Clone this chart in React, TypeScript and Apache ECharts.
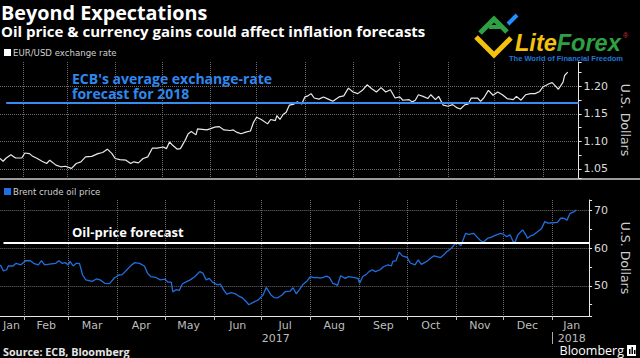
import React, { useEffect, useRef } from 'react';
import * as echarts from 'echarts';

// ---------- data ----------
const START_DATE = '2017-01-17';
const END_DATE = '2018-01-24';
const MONTH_NAMES = ['Jan', 'Feb', 'Mar', 'Apr', 'May', 'Jun', 'Jul', 'Aug', 'Sep', 'Oct', 'Nov', 'Dec'];

const fxDates = [
  '2017-01-17', '2017-01-19', '2017-01-21', '2017-01-24', '2017-01-27', '2017-01-31', '2017-02-02', '2017-02-05',
  '2017-02-07', '2017-02-10', '2017-02-13', '2017-02-16', '2017-02-18', '2017-02-22', '2017-02-25', '2017-02-28',
  '2017-03-03', '2017-03-04', '2017-03-07', '2017-03-10', '2017-03-13', '2017-03-17', '2017-03-21', '2017-03-24',
  '2017-03-27', '2017-03-30', '2017-04-01', '2017-04-04', '2017-04-08', '2017-04-11', '2017-04-13', '2017-04-16',
  '2017-04-19', '2017-04-22', '2017-04-25', '2017-04-28', '2017-05-02', '2017-05-04', '2017-05-06', '2017-05-08',
  '2017-05-11', '2017-05-13', '2017-05-16', '2017-05-18', '2017-05-20', '2017-05-23', '2017-05-24', '2017-05-27',
  '2017-05-30', '2017-06-01', '2017-06-04', '2017-06-07', '2017-06-10', '2017-06-14', '2017-06-16', '2017-06-18',
  '2017-06-21', '2017-06-24', '2017-06-27', '2017-06-29', '2017-07-01', '2017-07-04', '2017-07-08', '2017-07-10',
  '2017-07-13', '2017-07-14', '2017-07-16', '2017-07-18', '2017-07-20', '2017-07-22', '2017-07-25', '2017-07-27',
  '2017-07-30', '2017-08-01', '2017-08-03', '2017-08-05', '2017-08-07', '2017-08-10', '2017-08-13', '2017-08-16',
  '2017-08-19', '2017-08-23', '2017-08-26', '2017-08-29', '2017-09-01', '2017-09-04', '2017-09-07', '2017-09-10',
  '2017-09-13', '2017-09-16', '2017-09-19', '2017-09-22', '2017-09-25', '2017-09-28', '2017-10-01', '2017-10-03',
  '2017-10-07', '2017-10-09', '2017-10-11', '2017-10-13', '2017-10-16', '2017-10-19', '2017-10-21', '2017-10-24',
  '2017-10-26', '2017-10-29', '2017-11-01', '2017-11-04', '2017-11-07', '2017-11-09', '2017-11-12', '2017-11-14',
  '2017-11-16', '2017-11-20', '2017-11-22', '2017-11-24', '2017-11-27', '2017-11-30', '2017-12-03', '2017-12-06',
  '2017-12-09', '2017-12-13', '2017-12-15', '2017-12-18', '2017-12-21', '2017-12-24', '2017-12-27', '2017-12-30',
  '2018-01-01', '2018-01-05', '2018-01-07', '2018-01-09', '2018-01-11', '2018-01-14', '2018-01-15', '2018-01-17',
];
const fxValues = [
  1.069, 1.064, 1.070, 1.076, 1.070, 1.070, 1.079, 1.078,
  1.073, 1.069, 1.064, 1.060, 1.066, 1.057, 1.054, 1.055,
  1.052, 1.051, 1.060, 1.063, 1.072, 1.073, 1.078, 1.080,
  1.086, 1.078, 1.069, 1.067, 1.066, 1.060, 1.063, 1.061,
  1.069, 1.072, 1.088, 1.088, 1.090, 1.087, 1.099, 1.093,
  1.086, 1.087, 1.102, 1.114, 1.118, 1.112, 1.123, 1.122,
  1.121, 1.123, 1.126, 1.127, 1.121, 1.120, 1.121, 1.117,
  1.114, 1.117, 1.119, 1.135, 1.144, 1.140, 1.132, 1.140,
  1.138, 1.147, 1.140, 1.149, 1.153, 1.166, 1.168, 1.172,
  1.168, 1.181, 1.183, 1.187, 1.179, 1.177, 1.181, 1.177,
  1.173, 1.181, 1.183, 1.197, 1.190, 1.187, 1.193, 1.203,
  1.196, 1.190, 1.198, 1.190, 1.194, 1.179, 1.181, 1.175,
  1.176, 1.172, 1.175, 1.185, 1.182, 1.178, 1.185, 1.176,
  1.182, 1.166, 1.164, 1.167, 1.161, 1.159, 1.167, 1.168,
  1.179, 1.179, 1.173, 1.179, 1.193, 1.184, 1.190, 1.185,
  1.178, 1.176, 1.182, 1.175, 1.185, 1.187, 1.187, 1.191,
  1.199, 1.205, 1.207, 1.201, 1.195, 1.208, 1.220, 1.226,
];

const oilDates = [
  '2017-01-17', '2017-01-19', '2017-01-21', '2017-01-22', '2017-01-25', '2017-01-27', '2017-01-30', '2017-02-02',
  '2017-02-05', '2017-02-07', '2017-02-10', '2017-02-12', '2017-02-14', '2017-02-17', '2017-02-21', '2017-02-23',
  '2017-02-25', '2017-02-27', '2017-03-01', '2017-03-02', '2017-03-04', '2017-03-06', '2017-03-08', '2017-03-10',
  '2017-03-12', '2017-03-16', '2017-03-19', '2017-03-21', '2017-03-24', '2017-03-27', '2017-03-30', '2017-04-02',
  '2017-04-04', '2017-04-07', '2017-04-10', '2017-04-12', '2017-04-15', '2017-04-18', '2017-04-20', '2017-04-22',
  '2017-04-25', '2017-04-28', '2017-05-01', '2017-05-03', '2017-05-05', '2017-05-06', '2017-05-08', '2017-05-10',
  '2017-05-12', '2017-05-14', '2017-05-17', '2017-05-20', '2017-05-23', '2017-05-25', '2017-05-27', '2017-05-29',
  '2017-05-31', '2017-06-03', '2017-06-05', '2017-06-07', '2017-06-09', '2017-06-12', '2017-06-15', '2017-06-17',
  '2017-06-19', '2017-06-21', '2017-06-23', '2017-06-26', '2017-06-29', '2017-07-02', '2017-07-04', '2017-07-07',
  '2017-07-09', '2017-07-11', '2017-07-14', '2017-07-16', '2017-07-19', '2017-07-21', '2017-07-23', '2017-07-25',
  '2017-07-27', '2017-07-30', '2017-08-01', '2017-08-03', '2017-08-05', '2017-08-07', '2017-08-09', '2017-08-11',
  '2017-08-13', '2017-08-15', '2017-08-17', '2017-08-18', '2017-08-20', '2017-08-23', '2017-08-25', '2017-08-28',
  '2017-08-31', '2017-09-01', '2017-09-03', '2017-09-05', '2017-09-07', '2017-09-09', '2017-09-11', '2017-09-14',
  '2017-09-16', '2017-09-19', '2017-09-21', '2017-09-22', '2017-09-24', '2017-09-26', '2017-09-28', '2017-10-01',
  '2017-10-03', '2017-10-06', '2017-10-08', '2017-10-10', '2017-10-12', '2017-10-14', '2017-10-16', '2017-10-18',
  '2017-10-20', '2017-10-22', '2017-10-24', '2017-10-26', '2017-10-29', '2017-10-31', '2017-11-02', '2017-11-04',
  '2017-11-05', '2017-11-07', '2017-11-09', '2017-11-12', '2017-11-14', '2017-11-16', '2017-11-18', '2017-11-21',
  '2017-11-23', '2017-11-26', '2017-11-29', '2017-12-01', '2017-12-03', '2017-12-05', '2017-12-07', '2017-12-08',
  '2017-12-10', '2017-12-13', '2017-12-15', '2017-12-16', '2017-12-18', '2017-12-20', '2017-12-23', '2017-12-25',
  '2017-12-27', '2017-12-29', '2018-01-01', '2018-01-04', '2018-01-06', '2018-01-08', '2018-01-10', '2018-01-12',
  '2018-01-14', '2018-01-16',
];
const oilValues = [
  55.6, 54.0, 54.3, 55.3, 55.3, 56.0, 55.6, 56.7,
  56.7, 56.0, 55.6, 56.7, 55.6, 55.8, 56.0, 56.7,
  56.0, 56.2, 55.6, 56.5, 55.3, 56.0, 56.0, 52.9,
  51.6, 51.2, 51.9, 51.6, 50.7, 50.6, 52.1, 52.9,
  53.0, 54.3, 55.6, 56.2, 56.0, 55.3, 53.4, 52.5,
  52.3, 51.6, 51.8, 51.0, 51.0, 48.4, 49.0, 48.8,
  50.5, 51.0, 51.6, 52.5, 53.8, 53.4, 51.6, 52.0,
  51.0, 50.3, 50.5, 49.0, 47.8, 48.2, 47.8, 47.2,
  46.8, 46.0, 45.0, 45.7, 46.3, 47.6, 49.6, 47.6,
  46.9, 46.8, 47.6, 48.5, 48.6, 49.5, 47.9, 49.0,
  50.3, 51.4, 52.5, 52.2, 52.3, 52.1, 52.3, 52.6,
  52.2, 50.7, 50.4, 50.1, 52.7, 52.0, 52.5, 52.3,
  52.0, 50.7, 52.5, 53.0, 53.8, 54.3, 53.8, 54.3,
  55.1, 55.6, 55.3, 56.5, 56.7, 59.0, 58.0, 57.6,
  56.1, 55.6, 56.9, 55.7, 56.2, 56.7, 57.4, 58.0,
  57.8, 57.5, 58.2, 59.1, 60.0, 61.1, 61.4, 60.7,
  61.8, 64.0, 63.7, 64.0, 63.1, 62.2, 61.6, 62.7,
  62.9, 63.5, 64.0, 63.7, 63.1, 63.6, 61.8, 61.4,
  63.6, 64.9, 63.6, 62.7, 63.3, 63.6, 64.6, 65.3,
  67.1, 66.7, 66.8, 66.9, 68.0, 68.0, 67.5, 69.3,
  69.6, 70.2,
];

const ECB_FX_FORECAST = 1.17;
const FX_FORECAST_FROM = '2017-01-21';
const OIL_FORECAST = 61.6;
const OIL_FORECAST_FROM = '2017-01-19';

const FX_RANGE = [1.0336, 1.2445];
const OIL_RANGE = [42.0, 72.85];

// ---------- helpers ----------
function buildDays(start: string, end: string): string[] {
  const out: string[] = [];
  const d = new Date(start + 'T00:00:00Z');
  const e = new Date(end + 'T00:00:00Z');
  while (d.getTime() <= e.getTime()) {
    out.push(d.toISOString().slice(0, 10));
    d.setUTCDate(d.getUTCDate() + 1);
  }
  return out;
}

function midIndices(days: string[], keyLen: number): Set<number> {
  const groups: Record<string, number[]> = {};
  days.forEach((d, i) => {
    const k = d.slice(0, keyLen);
    if (!groups[k]) groups[k] = [i, i];
    groups[k][1] = i;
  });
  return new Set(Object.values(groups).map((g) => Math.round((g[0] + g[1]) / 2)));
}

const FONT_SANS = '"Open Sans", "DejaVu Sans", sans-serif';
const FONT_AXIS = '"DejaVu Sans", sans-serif';
const GRID_LINE = { color: '#6a6a6a', type: 'dotted', width: 1 };

export default function App() {
  const ref = useRef<HTMLDivElement>(null);

  useEffect(() => {
    if (!ref.current) return;
    const chart = echarts.init(ref.current, undefined, { renderer: 'svg' });

    const days = buildDays(START_DATE, END_DATE);
    const monthStarts = new Set<number>();
    days.forEach((d, i) => { if (i > 0 && d.endsWith('-01')) monthStarts.add(i); });
    const yearStarts = new Set<number>();
    days.forEach((d, i) => { if (i > 0 && d.endsWith('-01-01')) yearStarts.add(i); });
    const monthLabels = midIndices(days, 7);
    const yearLabels = midIndices(days, 4);

    const splitLineX = {
      show: true,
      interval: (i: number) => monthStarts.has(i),
      lineStyle: GRID_LINE,
    };
    const splitLineY = {
      show: true,
      showMinLine: false,
      showMaxLine: false,
      lineStyle: GRID_LINE,
    };
    const yAxisCommon = {
      type: 'value',
      position: 'right',
      axisLine: { show: true, lineStyle: { color: '#e6e6e6', width: 1 } },
      axisTick: { show: true, length: 3, lineStyle: { color: '#e6e6e6' } },
      minorTick: { show: true, splitNumber: 2, length: 3, lineStyle: { color: '#e6e6e6' } },
      splitLine: splitLineY,
      name: 'U.S. Dollars',
      nameLocation: 'middle',
      nameRotate: -90,
      nameGap: 20,
      nameTextStyle: { color: '#cfcfcf', fontSize: 12.5, fontFamily: FONT_AXIS },
    };

    const option: any = {
      animation: false,
      backgroundColor: '#000',
      grid: [
        { left: 0, right: 47, top: 62, height: 116 },
        { left: 0, right: 47, top: 200, height: 116 },
      ],
      legend: [
        {
          data: ['EUR/USD exchange rate'], left: 4, top: 48, padding: 0, icon: 'rect',
          itemWidth: 7, itemHeight: 7, selectedMode: false,
          textStyle: { color: '#d0d0d0', fontSize: 8.6, fontFamily: FONT_AXIS, padding: [0, 0, 0, -3] },
        },
        {
          data: ['Brent crude oil price'], left: 4, top: 187, padding: 0, icon: 'rect',
          itemWidth: 7, itemHeight: 7, selectedMode: false,
          textStyle: { color: '#d0d0d0', fontSize: 8.6, fontFamily: FONT_AXIS, padding: [0, 0, 0, -3] },
        },
      ],
      xAxis: [
        {
          gridIndex: 0, type: 'category', data: days, boundaryGap: false,
          axisLine: { show: false }, axisTick: { show: false }, axisLabel: { show: false },
          splitLine: splitLineX,
        },
        {
          gridIndex: 1, type: 'category', data: days, boundaryGap: false,
          axisLine: { show: true, lineStyle: { color: '#e6e6e6', width: 1 } },
          axisTick: { show: true, length: 4, interval: (i: number) => monthStarts.has(i), lineStyle: { color: '#bbb' } },
          axisLabel: {
            show: true, interval: (i: number) => monthLabels.has(i), margin: 4,
            color: '#bdbdbd', fontSize: 11, fontFamily: FONT_AXIS,
            formatter: (v: string) => MONTH_NAMES[parseInt(v.slice(5, 7), 10) - 1],
          },
          splitLine: splitLineX,
        },
        {
          gridIndex: 1, type: 'category', data: days, boundaryGap: false, position: 'bottom', offset: 16,
          axisLine: { show: false },
          axisTick: { show: true, length: 12, interval: (i: number) => yearStarts.has(i), lineStyle: { color: '#aaa' } },
          axisLabel: {
            show: true, interval: (i: number) => yearLabels.has(i), margin: 1,
            color: '#bdbdbd', fontSize: 11, fontFamily: FONT_AXIS,
            formatter: (v: string) => v.slice(0, 4),
          },
          splitLine: { show: false },
        },
      ],
      yAxis: [
        {
          ...yAxisCommon, gridIndex: 0, min: FX_RANGE[0], max: FX_RANGE[1], splitNumber: 4,
          axisLabel: {
            color: '#dcdcdc', fontSize: 11, fontFamily: FONT_AXIS, margin: 5,
            showMinLabel: false, showMaxLabel: false, formatter: (v: number) => v.toFixed(2),
          },
        },
        {
          ...yAxisCommon, gridIndex: 1, min: OIL_RANGE[0], max: OIL_RANGE[1], splitNumber: 3,
          axisLabel: {
            color: '#dcdcdc', fontSize: 11, fontFamily: FONT_AXIS, margin: 5,
            showMinLabel: false, showMaxLabel: false, formatter: (v: number) => String(Math.round(v)),
          },
        },
      ],
      series: [
        {
          type: 'line', name: 'EUR/USD exchange rate', xAxisIndex: 0, yAxisIndex: 0,
          data: fxDates.map((d, i) => [d, fxValues[i]]),
          showSymbol: false, symbol: 'none',
          lineStyle: { color: '#e8e8e8', width: 1.2 },
          itemStyle: { color: '#ffffff' },
          z: 3,
          markLine: {
            silent: true, symbol: 'none', label: { show: false },
            lineStyle: { color: '#3a8cf0', width: 2, type: 'solid' },
            data: [[{ coord: [FX_FORECAST_FROM, ECB_FX_FORECAST] }, { coord: [END_DATE, ECB_FX_FORECAST] }]],
          },
        },
        {
          type: 'line', name: 'Brent crude oil price', xAxisIndex: 1, yAxisIndex: 1,
          data: oilDates.map((d, i) => [d, oilValues[i]]),
          showSymbol: false, symbol: 'none',
          lineStyle: { color: '#1f6fe0', width: 1.3 },
          itemStyle: { color: '#1f6fe0' },
          z: 3,
          markLine: {
            silent: true, symbol: 'none', label: { show: false },
            lineStyle: { color: '#ffffff', width: 2, type: 'solid' },
            data: [[{ coord: [OIL_FORECAST_FROM, OIL_FORECAST] }, { coord: [END_DATE, OIL_FORECAST] }]],
          },
        },
      ],
      graphic: [
        { type: 'text', x: 1, y: 12, style: { text: 'Beyond Expectations', fill: '#fff', font: `bold 19.8px ${FONT_SANS}`, verticalAlign: 'middle' } },
        { type: 'text', x: 1, y: 30.5, style: { text: 'Oil price & currency gains could affect inflation forecasts', fill: '#fff', font: `bold 15px ${FONT_SANS}`, verticalAlign: 'middle' } },
        { type: 'text', x: 72, y: 71, style: { text: "ECB's average exchange-rate\nforecast for 2018", fill: '#2f88f0', font: `bold 14px ${FONT_SANS}`, lineHeight: 15, verticalAlign: 'top' } },
        { type: 'text', x: 72, y: 232, style: { text: 'Oil-price forecast', fill: '#fff', font: `bold 13px ${FONT_SANS}`, verticalAlign: 'middle' } },
        { type: 'line', shape: { x1: 0, y1: 179, x2: 640, y2: 179 }, style: { stroke: '#9a9a9a', lineWidth: 2 } },
        { type: 'text', x: 3, y: 352, style: { text: 'Source: ECB, Bloomberg', fill: '#e6e6e6', font: `bold 10.75px ${FONT_SANS}`, verticalAlign: 'middle' } },
        { type: 'text', x: 624, y: 350.5, style: { text: 'Bloomberg', fill: '#fff', font: `12.5px ${FONT_SANS}`, align: 'right', verticalAlign: 'middle' } },
        { type: 'rect', shape: { x: 627, y: 345, width: 9, height: 11 }, style: { fill: '#fff' } },
        { type: 'rect', shape: { x: 629, y: 349, width: 1.5, height: 5 }, style: { fill: '#000' } },
        { type: 'rect', shape: { x: 631.5, y: 347, width: 1.5, height: 7 }, style: { fill: '#000' } },
        { type: 'rect', shape: { x: 634, y: 350, width: 1.5, height: 4 }, style: { fill: '#000' } },
        // LiteForex logo
        { type: 'polyline', shape: { points: [[476, 37], [494, 55], [511, 38]] }, style: { stroke: '#f4c20d', lineWidth: 5, fill: null } },
        { type: 'polyline', shape: { points: [[480, 33], [494, 19], [507, 32]] }, style: { stroke: '#2ea043', lineWidth: 5, fill: null } },
        { type: 'line', shape: { x1: 489, y1: 27, x2: 500, y2: 27 }, style: { stroke: '#2ea043', lineWidth: 4 } },
        { type: 'line', shape: { x1: 508, y1: 24, x2: 517, y2: 15 }, style: { stroke: '#1e90ff', lineWidth: 4 } },
        {
          type: 'text', x: 515, y: 43,
          style: {
            text: '{a|Lite}{b|Forex}', verticalAlign: 'middle',
            font: 'italic bold 23.5px "Liberation Sans", sans-serif',
            rich: {
              a: { fill: '#f4c20d', font: 'italic bold 23.5px "Liberation Sans", sans-serif' },
              b: { fill: '#2ea043', font: 'italic bold 23.5px "Liberation Sans", sans-serif' },
            },
          },
        },
        { type: 'text', x: 623, y: 35, style: { text: '®', fill: '#d33', font: '7px sans-serif', verticalAlign: 'middle' } },
        { type: 'text', x: 509, y: 58, style: { text: 'The World of Financial Freedom', fill: '#1f78d8', font: 'bold 7.5px "Liberation Sans", sans-serif', verticalAlign: 'middle' } },
      ],
    };

    chart.setOption(option);
    return () => chart.dispose();
  }, []);

  return (
    <div
      ref={ref}
      style={{ position: 'absolute', left: 0, top: 0, width: 640, height: 358, background: '#000' }}
    />
  );
}
